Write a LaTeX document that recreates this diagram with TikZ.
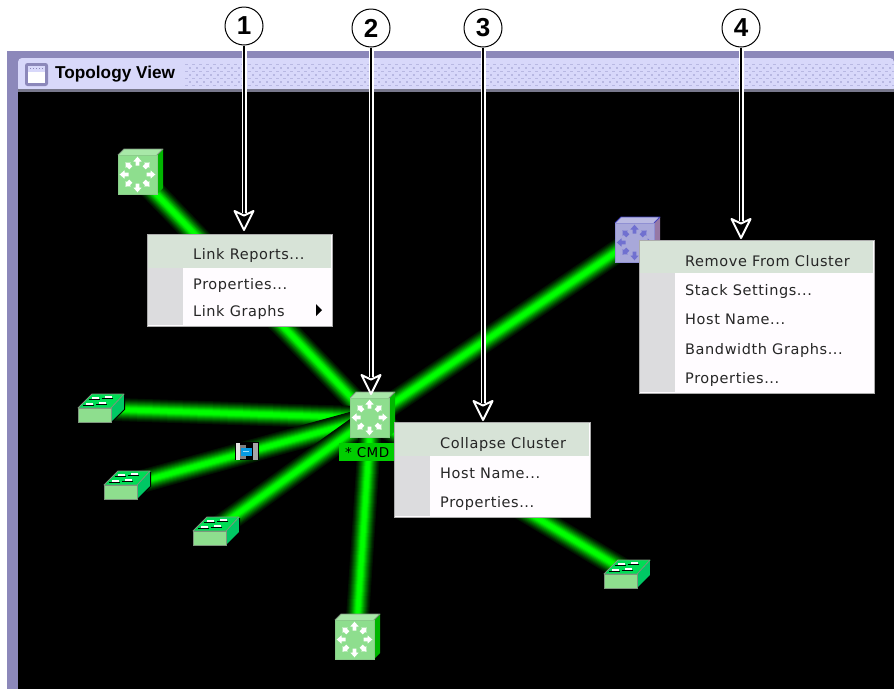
\documentclass[tikz,border=0pt]{standalone}
\usepackage{fontspec}
\setmainfont{Liberation Sans}
\newfontfamily\menufont[LetterSpace=4]{DejaVu Sans}
\usetikzlibrary{calc}
\definecolor{frameC}{RGB}{140,136,186}
\definecolor{barC}{RGB}{216,216,250}
\definecolor{dotC}{RGB}{184,184,226}
\definecolor{bandC}{RGB}{120,120,140}
\definecolor{lightG}{RGB}{142,222,142}
\definecolor{topG}{RGB}{168,232,168}
\definecolor{sideG}{RGB}{0,182,0}
\definecolor{edgeG}{RGB}{125,150,125}
\definecolor{swTop}{RGB}{0,220,85}
\definecolor{swSide}{RGB}{0,200,100}
\definecolor{lightB}{RGB}{168,168,218}
\definecolor{topB}{RGB}{186,186,226}
\definecolor{sideB}{RGB}{150,120,165}
\definecolor{edgeB}{RGB}{70,70,190}
\definecolor{arrB}{RGB}{112,112,208}
\definecolor{hiC}{RGB}{215,227,215}
\definecolor{colC}{RGB}{220,220,222}
\definecolor{menuC}{RGB}{255,252,255}
\definecolor{cmdC}{RGB}{0,205,0}
\tikzset{
  menubox/.style={draw=gray!65,line width=1.4pt,fill=menuC,inner sep=0pt,anchor=north west},
  menuitem/.style={anchor=base west,inner sep=0pt,text=black!85,font=\menufont\fontsize{14.5}{16}\selectfont},
  callnum/.style={circle,draw=black,line width=1pt,fill=white,minimum size=38pt,inner sep=0pt,font=\bfseries\fontsize{26}{30}\selectfont},
  shaftout/.style={white,line width=5pt},
  shaftin/.style={black,line width=1.8pt},
  headshape/.style={fill=black,draw=white,line width=2pt,line join=round},
}
% glow link between two named points
\newcommand\glowlink[2]{%
  \foreach \w/\g in {23/20,21/35,19/55,17/80,15/105,13/130,11/160,9/190,7/220,5/245,3/255}{%
    \draw[line width=\w pt,color={rgb,255:red,0;green,\g;blue,0}] (#1) -- (#2);}}
% router cube: name, x, y of front top-left, colours
\newcommand\cubeicon[8]{%
  \begin{scope}[shift={(#2,#3)}]
    \fill[#5] (0,0) -- (6,-6) -- (45,-6) -- (39,0) -- cycle;
    \fill[#6] (39,0) -- (45,-6) -- (45,33) -- (39,39) -- cycle;
    \draw[#7,line width=.8pt,line join=round] (0,0) -- (6,-6) -- (45,-6) -- (39,0);
    \draw[#4!75!#7,fill=#4,line width=.8pt] (0,0) rectangle (39,39);
    \foreach \a in {0,90,180,270}{%
      \fill[#8,shift={(19.5,19.5)},rotate=\a]
        (9,-1.9) -- (13,-1.9) -- (13,-4.2) -- (17.8,0) -- (13,4.2) -- (13,1.9) -- (9,1.9) -- cycle;}
    \foreach \a in {45,135,225,315}{%
      \fill[#8,shift={(19.5,19.5)},rotate=\a]
        (9.5,-2.2) -- (13,-2.2) -- (13,-3.8) -- (17,0) -- (13,3.8) -- (13,2.2) -- (9.5,2.2) -- cycle;}
  \end{scope}
  \node[inner sep=0pt,minimum size=39pt] (#1) at (#2+19.5,#3+19.5) {};}
% flat switch: name, x, y of front top-left
\newcommand\flaticon[3]{%
  \begin{scope}[shift={(#2,#3)}]
    \fill[swSide] (33,0) -- (46,-14) -- (46,1) -- (33,14) -- cycle;
    \draw[black,line width=1pt] (46.5,-13) -- (46.5,1.5) -- (33.5,14.5);
    \fill[swTop,draw=edgeG,line width=.8pt,line join=round] (0,0) -- (14,-14) -- (46,-14) -- (33,0) -- cycle;
    \fill[lightG,draw=edgeG,line width=.8pt] (0,0) rectangle (33,14);
    \foreach \dx/\dy in {14/-9.5,27/-11,8/-3.5,21/-5}{%
      \fill[black] (\dx-3,\dy+.6) rectangle (\dx+8,\dy+1.6);
      \fill[white] (\dx,\dy-1.2) rectangle (\dx+7,\dy+.6);}
  \end{scope}
  \node[inner sep=0pt,minimum width=33pt,minimum height=14pt] (#1) at (#2+16.5,#3+7) {};}
% callout: name, x, digit, tip y, circle y
\newcommand\callout[5]{%
  \node[callnum] (#1) at (#2,#5) {#3};
  \coordinate (#1tip) at (#2,#4);
  \draw[shaftout] (#1.south) -- ($(#1tip)+(0,-17)$);
  \draw[shaftin] (#1.south) -- ($(#1tip)+(0,-14)$);
  \draw[headshape] (#1tip) -- ++(-9.5,-19) -- ++(9.5,4.5) -- ++(9.5,-4.5) -- cycle;}
\begin{document}
\begin{tikzpicture}[x=1pt,y=-1pt]
\useasboundingbox (0,0) rectangle (894,689);
% window
\fill[frameC] (7,51) rectangle (894,689);
\fill[barC,rounded corners=4pt] (18,58) -- (18,92) -- (894,92) -- (894,58) -- cycle;
\fill[bandC] (18,88.5) rectangle (894,92);
\fill[black] (18,92) rectangle (894,689);
\begin{scope}
  \clip (185,63) rectangle (894,87);
  \foreach \i in {0,...,102}{\foreach \j in {0,...,6}{%
    \fill[dotC] ({185+\i*7+mod(\j,2)*3.5},{63.5+\j*3.5}) rectangle +(2.6,1.8);}}
\end{scope}
% title
\fill[frameC,rounded corners=2.5pt] (25,63) rectangle (48,86);
\fill[white] (28,66) rectangle (45,83);
\fill[barC] (28,66) rectangle (45,71.5);
\foreach \i in {0,...,4}{\fill[frameC] (29.5+\i*3,67.5) rectangle +(1.6,1.6);}
\node[anchor=west,inner sep=0pt,font=\bfseries\fontsize{17.2}{18}\selectfont] (title) at (55,74) {Topology View};
% coordinates of devices
\coordinate (hubC) at (371,418);
\coordinate (cubeAC) at (138,175);
\coordinate (cubeBC) at (356,640);
\coordinate (blueC) at (634,240);
\coordinate (swAC) at (100,409);
\coordinate (swBC) at (125,486);
\coordinate (swCC) at (215,530);
\coordinate (swDC) at (627,572);
% links
\glowlink{cubeAC}{hubC}
\glowlink{blueC}{hubC}
\glowlink{swAC}{hubC}
\glowlink{swBC}{hubC}
\glowlink{swCC}{hubC}
\glowlink{cubeBC}{hubC}
\glowlink{swDC}{hubC}
% devices
\cubeicon{cubeA}{118}{155}{lightG}{topG}{sideG}{edgeG}{white}
\cubeicon{hub}{350}{398}{lightG}{topG}{sideG}{edgeG}{white}
\cubeicon{cubeB}{335}{620}{lightG}{topG}{sideG}{edgeG}{white}
\cubeicon{blue}{615}{223}{lightB}{topB}{sideB}{edgeB}{arrB}
\flaticon{swA}{78}{408}
\flaticon{swB}{104}{485}
\flaticon{swC}{193}{531}
\flaticon{swD}{604}{574}
% link device
\node[inner sep=0pt,minimum width=24pt,minimum height=18pt] (linkdev) at (246.5,451) {};
\fill[black] (235,442) rectangle (258.5,460);
\fill[white!80!gray] (236,442.5) rectangle (239.5,459.5);
\fill[gray] (240,445) rectangle (246,459);
\fill[gray!70!white] (252.5,442.5) rectangle (258,459.5);
\fill[cyan!85!blue] (240.5,448) rectangle (251.5,456);
\fill[white!60!cyan] (243,450.5) rectangle (249,452);
% CMD label
\node[fill=cmdC,minimum width=56pt,minimum height=18pt,inner sep=0pt,anchor=north west] (cmd) at (339,443) {};
\node[anchor=base west,inner sep=0pt,font=\menufont\fontsize{13.5}{15}\selectfont] (cmdtext) at (345,457) {* CMD};
% menu 1
\node[menubox,minimum width=185pt,minimum height=92pt] (menuA) at (147,234) {};
\fill[colC] (148,268) rectangle (183,325);
\fill[hiC] (148,235) rectangle (331,268);
\node[menuitem] (a1) at (193,259) {Link Reports...};
\node[menuitem] (a2) at (193,289) {Properties...};
\node[menuitem] (a3) at (193,316) {Link Graphs};
\fill[black] (316,304) -- (322,310) -- (316,316) -- cycle;
% menu 3
\node[menubox,minimum width=196pt,minimum height=95pt] (menuC) at (394,422) {};
\fill[colC] (395,456) rectangle (430,516);
\fill[hiC] (395,423) rectangle (589,456);
\node[menuitem] (c1) at (440,448) {Collapse Cluster};
\node[menuitem] (c2) at (440,478) {Host Name...};
\node[menuitem] (c3) at (440,507) {Properties...};
% menu 4
\node[menubox,minimum width=235pt,minimum height=153pt] (menuD) at (639,240) {};
\fill[colC] (640,273) rectangle (675,392);
\fill[hiC] (640,241) rectangle (873,273);
\node[menuitem] (d1) at (685,266) {Remove From Cluster};
\node[menuitem] (d2) at (685,295) {Stack Settings...};
\node[menuitem] (d3) at (685,324) {Host Name...};
\node[menuitem] (d4) at (685,354) {Bandwidth Graphs...};
\node[menuitem] (d5) at (685,383) {Properties...};
% callouts
\callout{n1}{244}{1}{230}{26}
\callout{n2}{371}{2}{394}{28}
\callout{n3}{483}{3}{420}{28}
\callout{n4}{741}{4}{238}{28}
\end{tikzpicture}
\end{document}
